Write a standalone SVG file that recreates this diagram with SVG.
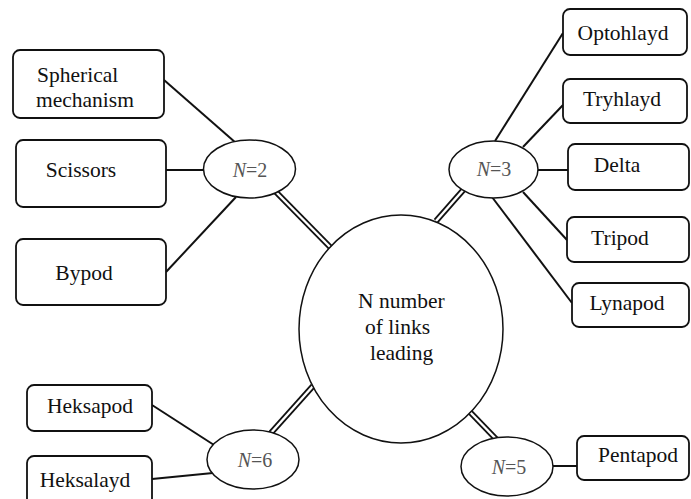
<svg xmlns="http://www.w3.org/2000/svg" width="691" height="499" viewBox="0 0 691 499">
<style>
.box{fill:#fff;stroke:#111;stroke-width:1.8}
.ell{fill:#fff;stroke:#111;stroke-width:1.5}
.lbl{font-family:"Liberation Serif","Times New Roman",serif;font-size:21.5px;fill:#111}
.n{font-family:"Liberation Serif","Times New Roman",serif;font-size:20px;fill:#555}
.ln{stroke:#111;stroke-width:2;fill:none}
.dbo{stroke:#111;stroke-width:6;fill:none}
.dbi{stroke:#fff;stroke-width:2.4;fill:none}
</style>
<rect width="691" height="499" fill="#fff"/>
<g id="connectors">
<line class="ln" x1="164" y1="80" x2="236" y2="143"/>
<line class="ln" x1="166" y1="170" x2="204" y2="170"/>
<line class="ln" x1="166" y1="272" x2="236" y2="197"/>
<line class="ln" x1="495" y1="141" x2="563" y2="33"/>
<line class="ln" x1="523" y1="147" x2="563" y2="105"/>
<line class="ln" x1="537" y1="170" x2="568" y2="170"/>
<line class="ln" x1="523" y1="192" x2="567" y2="240"/>
<line class="ln" x1="492" y1="197" x2="572" y2="303"/>
<line class="ln" x1="152" y1="405" x2="214" y2="445"/>
<line class="ln" x1="152" y1="479" x2="213" y2="473"/>
<line class="ln" x1="552" y1="466" x2="577" y2="466"/>
<line class="dbo" x1="274" y1="190" x2="332" y2="249"/>
<line class="dbi" x1="274" y1="190" x2="332" y2="249"/>
<line class="dbo" x1="465" y1="188" x2="436" y2="221"/>
<line class="dbi" x1="465" y1="188" x2="436" y2="221"/>
<line class="dbo" x1="270" y1="434" x2="313" y2="386"/>
<line class="dbi" x1="270" y1="434" x2="313" y2="386"/>
<line class="dbo" x1="497" y1="440" x2="469" y2="411"/>
<line class="dbi" x1="497" y1="440" x2="469" y2="411"/>
</g>
<g id="center">
<ellipse class="ell" cx="401" cy="329" rx="102" ry="114"/>
<text class="lbl" x="358" y="308">N number</text>
<text class="lbl" x="365" y="334">of links</text>
<text class="lbl" x="370" y="360">leading</text>
</g>
<g id="n2">
<ellipse class="ell" cx="249.5" cy="169" rx="46" ry="29"/>
<text class="n" x="250" y="177" text-anchor="middle"><tspan font-style="italic">N</tspan>=2</text>
</g>
<g id="n3">
<ellipse class="ell" cx="493.5" cy="169.5" rx="44.5" ry="28.5"/>
<text class="n" x="494" y="176" text-anchor="middle"><tspan font-style="italic">N</tspan>=3</text>
</g>
<g id="n6">
<ellipse class="ell" cx="253" cy="459.5" rx="46" ry="29.5"/>
<text class="n" x="255" y="467" text-anchor="middle"><tspan font-style="italic">N</tspan>=6</text>
</g>
<g id="n5">
<ellipse class="ell" cx="507" cy="466.5" rx="46" ry="29.5"/>
<text class="n" x="509" y="474" text-anchor="middle"><tspan font-style="italic">N</tspan>=5</text>
</g>
<g id="spherical">
<rect class="box" x="13" y="50" width="151" height="68" rx="7"/>
<text class="lbl" x="37" y="82">Spherical</text>
<text class="lbl" x="36" y="107">mechanism</text>
</g>
<g id="scissors">
<rect class="box" x="16" y="140" width="150" height="67" rx="7"/>
<text class="lbl" x="81" y="177" text-anchor="middle">Scissors</text>
</g>
<g id="bypod">
<rect class="box" x="16" y="239" width="150" height="66" rx="7"/>
<text class="lbl" x="84" y="280" text-anchor="middle">Bypod</text>
</g>
<g id="optohlayd">
<rect class="box" x="563" y="9" width="124" height="46" rx="7"/>
<text class="lbl" x="623" y="40" text-anchor="middle">Optohlayd</text>
</g>
<g id="tryhlayd">
<rect class="box" x="563" y="79" width="124" height="44" rx="7"/>
<text class="lbl" x="622" y="106" text-anchor="middle">Tryhlayd</text>
</g>
<g id="delta">
<rect class="box" x="568" y="144" width="121" height="46" rx="7"/>
<text class="lbl" x="617" y="172" text-anchor="middle">Delta</text>
</g>
<g id="tripod">
<rect class="box" x="567" y="217" width="122" height="45" rx="7"/>
<text class="lbl" x="620" y="245" text-anchor="middle">Tripod</text>
</g>
<g id="lynapod">
<rect class="box" x="572" y="283" width="117" height="44" rx="7"/>
<text class="lbl" x="627" y="310" text-anchor="middle">Lynapod</text>
</g>
<g id="heksapod">
<rect class="box" x="27" y="385" width="125" height="46" rx="7"/>
<text class="lbl" x="90" y="413" text-anchor="middle">Heksapod</text>
</g>
<g id="heksalayd">
<rect class="box" x="27" y="456" width="125" height="50" rx="7"/>
<text class="lbl" x="85" y="487" text-anchor="middle">Heksalayd</text>
</g>
<g id="pentapod">
<rect class="box" x="577" y="436" width="112" height="44" rx="7"/>
<text class="lbl" x="638" y="462" text-anchor="middle">Pentapod</text>
</g>
</svg>
